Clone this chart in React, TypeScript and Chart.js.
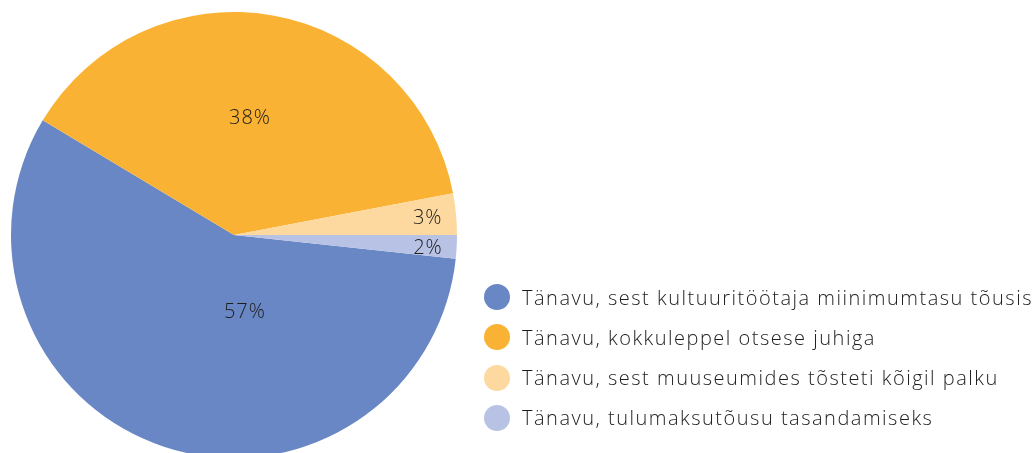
import React, { useEffect, useRef } from "react";
import { Chart, registerables } from "chart.js";

Chart.register(...registerables);

const categories = [
  "Tänavu, sest kultuuritöötaja miinimumtasu tõusis",
  "Tänavu, kokkuleppel otsese juhiga",
  "Tänavu, sest muuseumides tõsteti kõigil palku",
  "Tänavu, tulumaksutõusu tasandamiseks",
];
const values = [56.9, 38.4, 3.0, 1.7];
const valueLabels = ["57%", "38%", "3%", "2%"];
const colors = ["#6A87C5", "#F9B233", "#FDD9A0", "#B8C2E4"];

const FONT = "'Open Sans', sans-serif";

// label anchor in polar form: angle (deg, clockwise from 3 o'clock), radius fraction
const labelAnchors = [
  { angle: 81.9, r: 0.348 },
  { angle: 277.8, r: 0.527 },
  { angle: 355.0, r: 0.872 },
  { angle: 4.0, r: 0.872 },
];

const labelPlugin = {
  id: "sliceLabels",
  afterDatasetsDraw(chart: any) {
    const meta = chart.getDatasetMeta(0);
    const ctx = chart.ctx;
    ctx.save();
    ctx.font = `300 20px ${FONT}`;
    (ctx as any).letterSpacing = "1px";
    ctx.fillStyle = "#1D1D1B";
    ctx.textAlign = "center";
    ctx.textBaseline = "middle";
    meta.data.forEach((arc: any, i: number) => {
      const { x, y, outerRadius } = arc.getProps(["x", "y", "outerRadius"], true);
      const a = (labelAnchors[i].angle * Math.PI) / 180;
      const rr = labelAnchors[i].r * outerRadius;
      ctx.fillText(valueLabels[i], x + Math.cos(a) * rr, y + Math.sin(a) * rr);
    });
    ctx.restore();
  },
};

export default function App() {
  const ref = useRef<HTMLCanvasElement>(null);
  useEffect(() => {
    const chart = new Chart(ref.current!, {
      type: "pie",
      data: {
        labels: categories,
        datasets: [
          {
            data: values,
            backgroundColor: colors,
            borderWidth: 0,
          },
        ],
      },
      options: {
        animation: false,
        responsive: false,
        devicePixelRatio: 1,
        rotation: 96.1,
        layout: { padding: { left: 11, top: 12, right: 578, bottom: 12 } },
        plugins: {
          legend: { display: false },
          tooltip: { enabled: false },
        },
      },
      plugins: [labelPlugin],
    });
    return () => chart.destroy();
  }, []);

  return (
    <div
      style={{
        position: "fixed",
        left: 0,
        top: 0,
        width: 1035,
        height: 453,
        overflow: "hidden",
        background: "#fff",
      }}
    >
      <canvas ref={ref} width={1035} height={470} style={{ display: "block" }} />
      {categories.map((c, i) => (
        <div
          key={c}
          style={{
            position: "absolute",
            left: 484,
            top: 297 + i * 40.3 - 15,
            height: 30,
            display: "flex",
            alignItems: "center",
            whiteSpace: "nowrap",
            fontFamily: FONT,
            fontWeight: 300,
            fontSize: 20,
            letterSpacing: "1.5px",
            color: "#1D1D1B",
          }}
        >
          <span
            style={{
              display: "inline-block",
              width: 26,
              height: 26,
              borderRadius: "50%",
              background: colors[i],
              marginRight: 12,
              flex: "none",
            }}
          />
          <span>{c}</span>
        </div>
      ))}
    </div>
  );
}
